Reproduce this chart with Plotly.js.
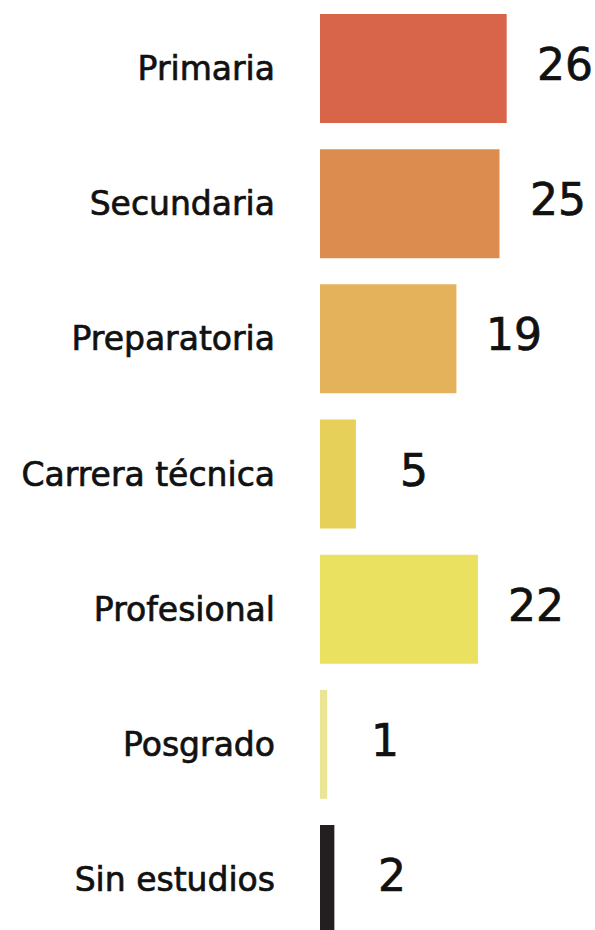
<!DOCTYPE html>
<html>
<head>
<meta charset="utf-8">
<script src="https://cdn.plot.ly/plotly-3.0.1.min.js"></script>
<style>
  body { margin: 0; background: #fff; }
  #graph { width: 595px; height: 930px; }
  /* the original face is a medium weight, thicken the book weight a little */
  #graph text { stroke: #111111; stroke-width: 0.7px; }
</style>
</head>
<body>
<div id="graph"></div>
<script>
// ------------------- data ----------------------
var niveles = ["Primaria", "Secundaria", "Preparatoria", "Carrera técnica", "Profesional", "Posgrado", "Sin estudios"];
var valores = [26, 25, 19, 5, 22, 1, 2];
var colores = ["#D8644A", "#DC8C4F", "#E3B25B", "#E7D05A", "#EAE160", "#EAE696", "#231F20"];

var graph = document.getElementById("graph");

var barras = {
	type: "bar",
	orientation: "h",
	y: niveles,
	x: valores,
	marker: {color: colores, line: {width: 0}},
	hoverinfo: "none"
};

// value labels to the right of each bar
var etiquetas = [];
for (var i = 0; i < niveles.length; i++) {
	etiquetas.push({
		x: valores[i],
		y: niveles[i],
		xref: "x",
		yref: "y",
		text: String(valores[i]),
		showarrow: false,
		xanchor: "center",
		yanchor: "middle",
		xshift: 58,
		yshift: 4,
		font: {family: "DejaVu Sans", size: 44, color: "#111111"}
	});
}

var layout = {
	width: 595,
	height: 930,
	margin: {l: 320, r: 0, t: 0, b: 0, pad: 0},
	paper_bgcolor: "#ffffff",
	plot_bgcolor: "#ffffff",
	showlegend: false,
	bargap: 0.194,
	xaxis: {
		range: [0, 38.3],
		visible: false,
		showgrid: false,
		zeroline: false
	},
	yaxis: {
		type: "category",
		range: [6.3735, -0.5068], // bottom bar is cut by the frame
		showgrid: false,
		zeroline: false,
		showline: false,
		ticks: "",
		ticklabelstandoff: 44,
		tickfont: {family: "DejaVu Sans", size: 33, color: "#111111"}
	},
	annotations: etiquetas
};

Plotly.newPlot(graph, [barras], layout, {displayModeBar: false, staticPlot: true});
</script>
</body>
</html>
